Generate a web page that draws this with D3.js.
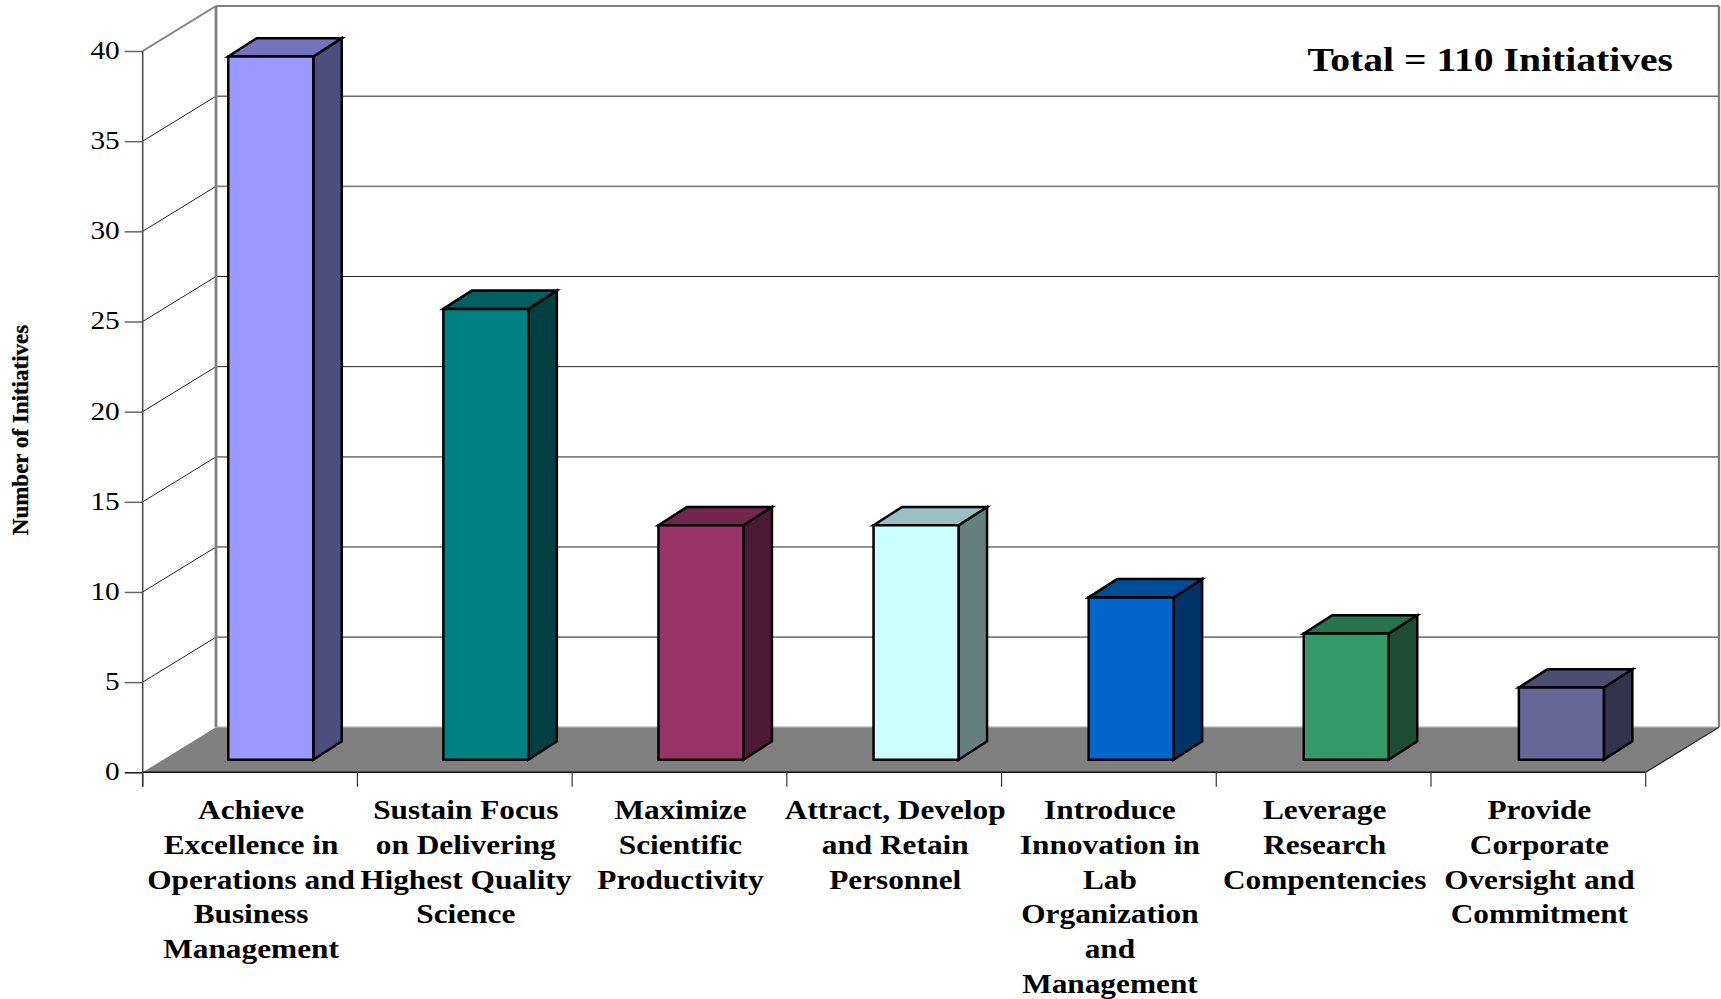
<!DOCTYPE html>
<html><head><meta charset="utf-8">
<script src="https://cdnjs.cloudflare.com/ajax/libs/d3/7.8.5/d3.min.js"></script>
<style>html,body{margin:0;padding:0;background:#fff;overflow:hidden}svg{display:block}text{font-family:"Liberation Serif","Times New Roman",serif;fill:#000}</style>
</head><body><svg id="c" width="1721" height="999"></svg>
<script>
const categories = [
  ["Achieve","Excellence in","Operations and","Business","Management"],
  ["Sustain Focus","on Delivering","Highest Quality","Science"],
  ["Maximize","Scientific","Productivity"],
  ["Attract, Develop","and Retain","Personnel"],
  ["Introduce","Innovation in","Lab","Organization","and","Management"],
  ["Leverage","Research","Compentencies"],
  ["Provide","Corporate","Oversight and","Commitment"]
];
const values = [39,25,13,13,9,7,4];
const barColors = ["#9999FF","#008080","#993366","#CCFFFF","#0066CC","#339966","#666699"];
const yTicks = [0,5,10,15,20,25,30,35,40];
const greyGrid = [30,15,5];
const yTitle = "Number of Initiatives";
const note = "Total = 110 Initiatives";

const svg = d3.select("#c");
const names = categories.map(c=>c.join(" "));
const x = d3.scaleBand().domain(names).range([142.7,1645.7]).paddingInner(0).paddingOuter(0);
const xBar = d3.scaleBand().domain(names).range([143.7,1649.4]).paddingInner(0).paddingOuter(0);
const y = d3.scaleLinear().domain([0,40]).range([772.3,51]);
const depthX = 73.3, depthY = -45;   // wall depth
const barDX = 28.5, barDY = -18.3;   // bar depth
const baseLift = 12.6, baseShift = 19.5, barW = 85;
const wallGrey = "#808080";
const line = d3.line();

// floor
svg.append("path").attr("d",line([[x.range()[0],y(0)],[x.range()[1],y(0)],[x.range()[1]+depthX,y(0)+depthY],[x.range()[0]+depthX,y(0)+depthY]])+"Z")
  .attr("fill",wallGrey);

// back-wall gridlines and side-wall diagonals
const g = svg.append("g");
yTicks.filter(v=>v>0).forEach(v=>{
  const top = v===40, grey = greyGrid.includes(v);
  g.append("path").attr("d",line([[x.range()[0],y(v)],[x.range()[0]+depthX,y(v)+depthY]]))
   .attr("fill","none").attr("stroke",top?wallGrey:"#222").attr("stroke-width",top?2:1);
  g.append("path").attr("d",line([[x.range()[0]+depthX,y(v)+depthY],[x.range()[1]+depthX,y(v)+depthY]]))
   .attr("fill","none").attr("stroke",top||grey?wallGrey:"#222").attr("stroke-width",top||grey?1.8:1);
});
// wall edges
g.append("path").attr("d",line([[x.range()[0]+depthX,y(40)+depthY],[x.range()[0]+depthX,y(0)+depthY]])).attr("stroke",wallGrey).attr("stroke-width",2.8).attr("fill","none");
g.append("path").attr("d",line([[x.range()[1]+depthX,y(40)+depthY],[x.range()[1]+depthX,y(0)+depthY]])).attr("stroke",wallGrey).attr("stroke-width",2.4).attr("fill","none");
g.append("path").attr("d",line([[x.range()[0]+depthX,y(0)+depthY],[x.range()[1]+depthX,y(0)+depthY]])).attr("stroke","#a0a0a0").attr("stroke-width",1.5).attr("fill","none");
g.append("path").attr("d",line([[x.range()[1],y(0)],[x.range()[1]+depthX,y(0)+depthY]])).attr("stroke","#222").attr("stroke-width",1.2).attr("fill","none");

// axes
const axisY = d3.axisLeft(y).tickValues(yTicks).tickSize(18).tickPadding(5);
const ay = svg.append("g").attr("transform",`translate(${x.range()[0]},0)`).call(axisY);
ay.selectAll("path").remove();
ay.selectAll("line").attr("stroke",v=>v===0?"#111":"#666").attr("stroke-width",1.5);
ay.selectAll("text").remove();
yTicks.forEach(v=>{
  svg.append("text").attr("transform",`translate(${x.range()[0]-23},${y(v)+8}) scale(1.15,1)`)
   .attr("text-anchor","end").attr("font-size",25.5).text(v);
});
svg.append("path").attr("d",line([[x.range()[0],y(40)],[x.range()[0],y(0)+14.5]])).attr("stroke","#444").attr("stroke-width",1.5).attr("fill","none");
svg.append("path").attr("d",line([[x.range()[0],y(0)],[x.range()[1],y(0)]])).attr("stroke","#111").attr("stroke-width",1.4).attr("fill","none");
const tickXs = names.map(n=>x(n)).concat([x.range()[1]]);
tickXs.forEach(t=>svg.append("path").attr("d",line([[t,y(0)],[t,y(0)+14.5]])).attr("stroke","#333").attr("stroke-width",1.2).attr("fill","none"));

// bars
names.forEach((n,i)=>{
  const col = d3.rgb(barColors[i]);
  const shade = k=>d3.rgb(col.r*k,col.g*k,col.b*k).formatHex();
  const xl = xBar(n)+xBar.bandwidth()/2-barW/2+baseShift;
  const xr = xl+barW;
  const yb = y(0)-baseLift;
  const yt = y(values[i])-baseLift;
  const bg = svg.append("g").attr("stroke","#000").attr("stroke-width",2.5).attr("stroke-linejoin","miter");
  bg.append("path").attr("d",line([[xr,yb],[xr+barDX,yb+barDY],[xr+barDX,yt+barDY],[xr,yt]])+"Z").attr("fill",shade(.5));
  bg.append("path").attr("d",line([[xl,yt],[xl+barDX,yt+barDY],[xr+barDX,yt+barDY],[xr,yt]])+"Z").attr("fill",shade(.75));
  bg.append("path").attr("d",line([[xl,yb],[xr,yb],[xr,yt],[xl,yt]])+"Z").attr("fill",barColors[i]);
});

// category labels
categories.forEach((lines,i)=>{
  const cx = x(names[i])+x.bandwidth()/2+1;
  lines.forEach((t,j)=>{
    svg.append("text").attr("transform",`translate(${cx},${819+j*34.8}) scale(1.16,1)`)
      .attr("text-anchor","middle").attr("font-weight","bold").attr("font-size",27).text(t);
  });
});

// note
svg.append("text").attr("transform","translate(1673,71) scale(1.165,1)").attr("text-anchor","end")
  .attr("font-weight","bold").attr("font-size",34).text(note);

// y title
svg.append("text").attr("transform","translate(28,430)rotate(-90)").attr("text-anchor","middle")
  .attr("font-weight","bold").attr("font-size",23).attr("stroke","#000").attr("stroke-width",0.3).text(yTitle);
</script></body></html>
